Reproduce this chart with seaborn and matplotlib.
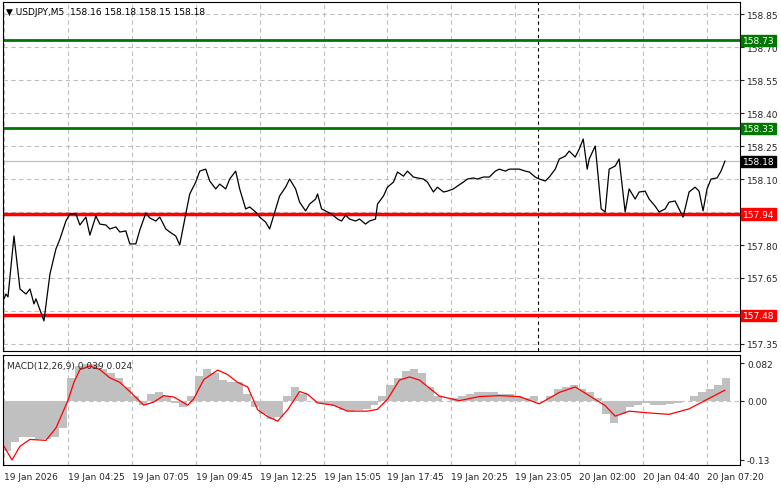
import numpy as np
import pandas as pd
import seaborn as sns
import matplotlib.pyplot as plt

# --- price (close) samples: bar index, price ---
price_bars = [0, 1, 2, 5, 8, 11, 13, 15, 16, 20, 23, 26, 28, 31, 33, 36, 38, 41, 43, 46,
              48, 51, 53, 56, 58, 61, 63, 66, 68, 71, 73, 76, 78, 81, 83, 86, 88, 91, 93, 96,
              98, 101, 103, 106, 108, 111, 113, 116, 118, 121,
              123, 126, 128, 131, 133, 136, 138, 141, 143, 146, 148, 151, 153, 156, 157, 159, 162, 164, 167, 169,
              171, 173, 176, 178, 181, 183, 186, 187, 190, 192, 195, 197, 200, 202, 205, 207, 210, 212, 215, 217,
              220, 222, 225, 227, 230, 232, 235, 237, 240, 242,
              243, 246, 248, 251, 253, 256, 258, 261, 263, 266, 268, 271, 273, 276, 278, 281, 283, 286, 288, 290,
              292, 293, 296, 297, 299, 301, 303, 306, 308, 311, 313, 316, 318, 321, 323, 326, 328, 331, 333, 336,
              338, 340, 343, 346, 348, 350, 352, 354, 357, 359, 361]
price_close = [157.555, 157.577, 157.564, 157.841, 157.600, 157.577, 157.600, 157.532, 157.555, 157.455,
               157.668, 157.782, 157.827, 157.909, 157.941, 157.941, 157.891, 157.927, 157.845, 157.932,
               157.895, 157.891, 157.873, 157.882, 157.859, 157.864, 157.805, 157.805, 157.868, 157.945,
               157.923, 157.909, 157.927, 157.873, 157.859, 157.841, 157.800, 157.941, 158.032, 158.086,
               158.136, 158.145, 158.091, 158.055, 158.077, 158.055, 158.100, 158.136, 158.055, 157.964,
               157.973, 157.950, 157.927, 157.904, 157.873, 157.964, 158.023, 158.063, 158.100, 158.055,
               157.995, 157.955, 157.986, 158.009, 158.032, 157.964, 157.950, 157.941, 157.918, 157.909,
               157.936, 157.918, 157.909, 157.918, 157.895, 157.909, 157.918, 157.986, 158.023, 158.063,
               158.086, 158.132, 158.113, 158.136, 158.109, 158.105, 158.100, 158.086, 158.041, 158.063,
               158.041, 158.045, 158.055, 158.068, 158.086, 158.100, 158.105, 158.100, 158.109, 158.109,
               158.109, 158.136, 158.145, 158.136, 158.145, 158.145, 158.145, 158.136, 158.132, 158.109,
               158.100, 158.091, 158.109, 158.145, 158.191, 158.204, 158.227, 158.200, 158.236, 158.282,
               158.145, 158.191, 158.250, 158.159, 157.964, 157.950, 158.145, 158.159, 158.191, 157.950,
               158.055, 158.009, 158.041, 158.045, 158.009, 157.977, 157.950, 157.964, 157.995, 158.000,
               157.964, 157.927, 158.041, 158.063, 158.045, 157.955, 158.055, 158.100, 158.105, 158.136,
               158.182]

# --- MACD histogram, one value per 4 bars ---
macd_hist = [-0.11, -0.09, -0.08, -0.08, -0.085, -0.085, -0.08, -0.06, 0.05, 0.075,
             0.08, 0.08, 0.07, 0.06, 0.05, 0.03, 0.01, -0.01, 0.015, 0.02,
             0.01, -0.005, -0.015, 0.01, 0.055, 0.07, 0.06, 0.045, 0.04, 0.04,
             0.015, -0.015, -0.03, -0.04, -0.035, 0.01, 0.03, 0.015, 0.0, -0.005,
             -0.008, -0.012, -0.02, -0.022, -0.02, -0.018, -0.01, 0.01, 0.035, 0.05,
             0.065, 0.07, 0.06, 0.03, 0.01, 0.0, 0.005, 0.01, 0.015, 0.02,
             0.02, 0.02, 0.015, 0.015, 0.01, 0.005, 0.01, 0.0, 0.01, 0.025,
             0.03, 0.035, 0.025, 0.02, 0.005, -0.03, -0.05, -0.03, -0.015, -0.01,
             -0.005, -0.01, -0.01, -0.008, -0.005, 0.0, 0.01, 0.02, 0.025, 0.035, 0.05]

# --- MACD signal line ---
sig_bars = [0, 4, 8, 13, 21, 26, 28, 32, 35, 38, 43, 48, 53, 58, 63, 70, 75, 80, 85, 92,
            95, 100, 107, 112, 117, 122, 127, 132, 137, 142, 148, 152, 157, 165, 172, 182, 187, 192, 198, 203,
            208, 218, 228, 238, 248, 258, 268, 278, 286, 293, 301, 306, 313, 323, 333, 343, 353, 361]
sig_vals = [-0.10, -0.13, -0.10, -0.085, -0.087, -0.06, -0.04, 0.0, 0.04, 0.068,
            0.076, 0.068, 0.05, 0.04, 0.02, -0.01, -0.003, 0.011, 0.008, -0.01,
            0.004, 0.046, 0.067, 0.057, 0.04, 0.03, -0.02, -0.035, -0.045, -0.02,
            0.02, 0.014, -0.005, -0.01, -0.023, -0.023, -0.019, 0.003, 0.045, 0.052,
            0.045, 0.01, 0.0, 0.009, 0.011, 0.009, -0.007, 0.018, 0.03, 0.011,
            -0.011, -0.034, -0.023, -0.027, -0.03, -0.018, 0.005, 0.023]

# --- levels and labels ---
green_levels = [158.73, 158.33]
red_levels = [157.94, 157.48]
last_price = 158.18
price_ticks = [158.85, 158.70, 158.55, 158.40, 158.25, 158.10, 157.95, 157.80, 157.65, 157.50, 157.35]
price_tick_labels = ['158.85', '158.70', '158.55', '158.40', '158.25', '158.10', '', '157.80', '157.65', '', '157.35']
time_ticks = [0, 32, 64, 96, 128, 160, 192, 224, 256, 288, 320, 352]
time_labels = ['19 Jan 2026', '19 Jan 04:25', '19 Jan 07:05', '19 Jan 09:45', '19 Jan 12:25', '19 Jan 15:05',
               '19 Jan 17:45', '19 Jan 20:25', '19 Jan 23:05', '20 Jan 02:00', '20 Jan 04:40', '20 Jan 07:20']
separator_bar = 267.5

sns.set_style('white')
plt.rcParams['font.family'] = ['DejaVu Sans']

W, H = 781, 489
fig = plt.figure(figsize=(W / 100, H / 100), dpi=100)
ax = fig.add_axes([3 / W, 1 - 352 / H, 737 / W, 349 / H])
ax2 = fig.add_axes([3 / W, 1 - 466 / H, 737 / W, 110 / H])

xlim = (-0.5, 368.5)
grid_kw = dict(color='#c0c0c0', linestyle=(0, (4, 3)), linewidth=0.8)

# price panel
for t in time_ticks:
    ax.axvline(t, **grid_kw, zorder=0)
for p in price_ticks:
    ax.axhline(p, **grid_kw, zorder=0)
ax.axvline(separator_bar, color='black', linestyle=(0, (3, 3)), linewidth=0.8, zorder=1)
ax.axhline(last_price, color='#c0c0c0', linewidth=0.9, zorder=1)
for lv in green_levels:
    ax.axhline(lv, color='#007800', linewidth=2, zorder=2)
for lv in red_levels:
    ax.axhline(lv, color='#ff0000', linewidth=2.5, zorder=2)
df = pd.DataFrame({'bar': price_bars, 'close': price_close})
sns.lineplot(data=df, x='bar', y='close', ax=ax, color='black', linewidth=0.9, zorder=3)
ax.set_xlim(*xlim)
ax.set_ylim(157.318, 158.905)
ax.yaxis.tick_right()
ax.set_yticks(price_ticks)
ax.set_yticklabels(price_tick_labels)
ax.set_xticks([])
ax.set_xlabel('')
ax.set_ylabel('')
ax.tick_params(axis='y', labelsize=6.5, length=3, pad=2)

def level_box(a, y, text, bg):
    a.annotate(text, xy=(1.0, y), xycoords=('axes fraction', 'data'), xytext=(2, 0),
               textcoords='offset points', ha='left', va='center', fontsize=6.5, color='white',
               bbox=dict(boxstyle='square,pad=0.15', fc=bg, ec=bg), annotation_clip=False)

for lv in green_levels:
    level_box(ax, lv, f'{lv:.2f}', '#007800')
for lv in red_levels:
    level_box(ax, lv, f'{lv:.2f}', '#ff0000')
level_box(ax, last_price, f'{last_price:.2f}', 'black')

ax.text(0.004, 0.985, '▼ USDJPY,M5  158.16 158.18 158.15 158.18', transform=ax.transAxes,
        fontsize=6.5, va='top', ha='left', color='black')

# MACD panel
for t in time_ticks:
    ax2.axvline(t, **grid_kw, zorder=0)
ax2.axhline(0, **grid_kw, zorder=0)
hist_x = np.arange(len(macd_hist)) * 4 + 1.5
ax2.bar(hist_x, macd_hist, width=4, color='#c0c0c0', linewidth=0, zorder=1)
sdf = pd.DataFrame({'bar': sig_bars, 'signal': sig_vals})
sns.lineplot(data=sdf, x='bar', y='signal', ax=ax2, color='#ff0000', linewidth=0.9, zorder=2)
ax2.set_xlim(*xlim)
ax2.set_ylim(-0.141, 0.100)
ax2.yaxis.tick_right()
ax2.set_yticks([0.082, 0.0, -0.13])
ax2.set_yticklabels(['0.082', '0.00', '-0.13'])
ax2.set_xticks(time_ticks)
ax2.set_xticklabels(time_labels, ha='left')
ax2.set_xlabel('')
ax2.set_ylabel('')
ax2.tick_params(axis='both', labelsize=6.5, length=3, pad=2)
ax2.text(0.006, 0.95, 'MACD(12,26,9) 0.039 0.024', transform=ax2.transAxes,
         fontsize=6.5, va='top', ha='left')

for a in (ax, ax2):
    for s in a.spines.values():
        s.set_color('black')
        s.set_linewidth(0.8)

fig.savefig('out.png', dpi=100, facecolor='white')
